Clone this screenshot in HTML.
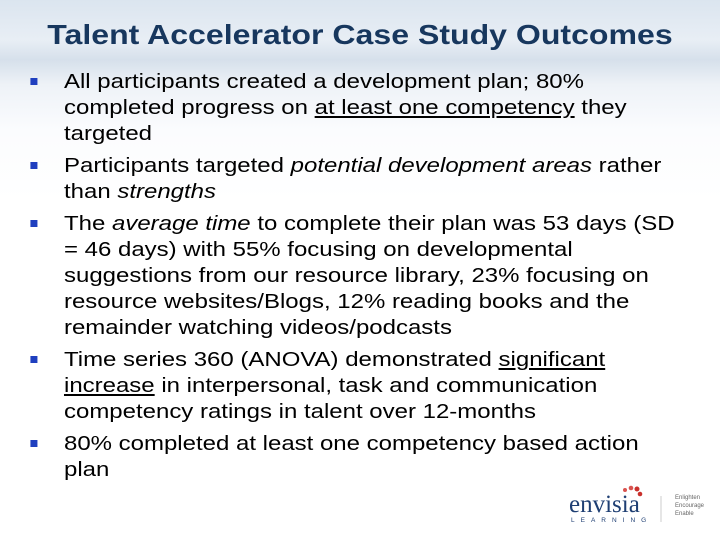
<!DOCTYPE html>
<html><head><meta charset="utf-8"><style>
body{margin:0;width:720px;height:540px;overflow:hidden;position:relative;font-family:"Liberation Sans",sans-serif;
background:linear-gradient(180deg,#dbe5ef 0px,#e8eef5 40px,#d6e0eb 60px,#eef2f7 85px,#fbfcfe 130px,#fff 200px);}
.title{position:absolute;left:0;top:19px;width:720px;text-align:center;font-size:28px;font-weight:bold;color:#17375e;transform:scaleX(1.145);transform-origin:360px 0;}
ul{position:absolute;left:0;top:69px;margin:0;padding:0;list-style:none;transform:scaleX(1.17);transform-origin:0 0;}
li{position:relative;padding-left:54.7px;font-size:20.5px;line-height:26px;color:#000;margin-bottom:6px;white-space:nowrap;}
li::before{content:"";position:absolute;left:25.6px;top:9px;width:6px;height:7px;background:#1f3fbf;}
.logo{position:absolute;left:565px;top:484px;width:150px;height:50px;}
</style></head><body>
<div class="title">Talent Accelerator Case Study Outcomes</div>
<ul>
<li>All participants created a development plan; 80%<br>completed progress on <u>at least one competency</u> they<br>targeted</li>
<li>Participants targeted <i>potential development areas</i> rather<br>than <i>strengths</i></li>
<li>The <i>average time</i> to complete their plan was 53 days (SD<br>= 46 days) with 55% focusing on developmental<br>suggestions from our resource library, 23% focusing on<br>resource websites/Blogs, 12% reading books and the<br>remainder watching videos/podcasts</li>
<li>Time series 360 (ANOVA) demonstrated <u>significant</u><br><u>increase</u> in interpersonal, task and communication<br>competency ratings in talent over 12-months</li>
<li>80% completed at least one competency based action<br>plan</li>
</ul>
<svg class="logo" viewBox="0 0 150 50">
<circle cx="60" cy="6" r="2" fill="#d9534f"/><circle cx="66" cy="4" r="2.3" fill="#d9534f"/><circle cx="72" cy="5" r="2.5" fill="#c9302c"/><circle cx="75" cy="10" r="2.3" fill="#c9302c"/>
<text x="4" y="28" font-family="Liberation Serif,serif" font-size="25" fill="#1f3f73">envisia</text>
<text x="6" y="38" font-family="Liberation Sans,sans-serif" font-size="6.5" letter-spacing="6" fill="#1f3f73">LEARNING</text>
<line x1="96" y1="12" x2="96" y2="38" stroke="#ccc"/>
<text x="110" y="15" font-size="6" fill="#666" font-family="Liberation Sans,sans-serif">Enlighten</text>
<text x="110" y="23" font-size="6" fill="#666" font-family="Liberation Sans,sans-serif">Encourage</text>
<text x="110" y="31" font-size="6" fill="#666" font-family="Liberation Sans,sans-serif">Enable</text>
</svg>
</body></html>
